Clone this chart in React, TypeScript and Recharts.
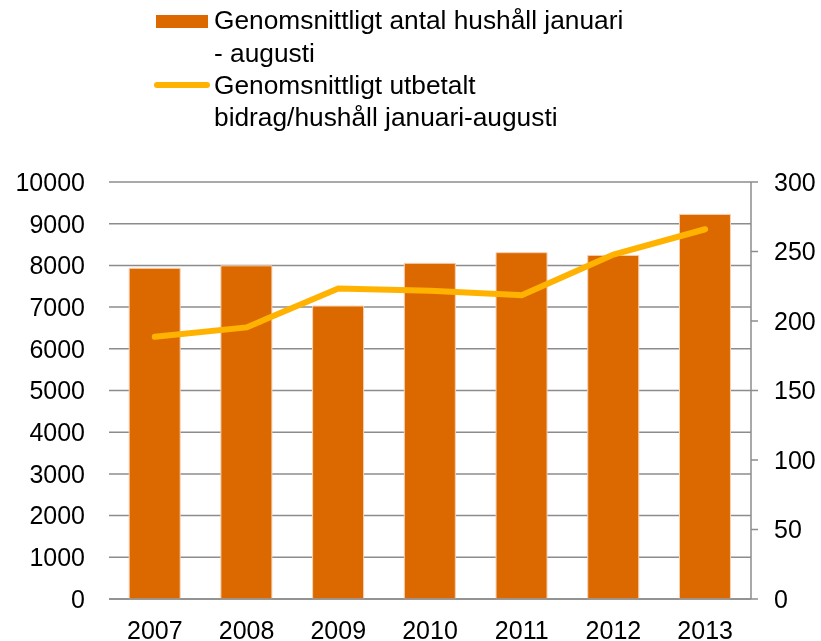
import React from 'react';
import { ComposedChart, Bar, Line, XAxis, YAxis, CartesianGrid, Legend } from 'recharts';

const years = ['2007', '2008', '2009', '2010', '2011', '2012', '2013'];
const households = [7930, 7990, 7025, 8050, 8305, 8240, 9223];
const payments = [188.6, 195.4, 223.4, 221.7, 218.6, 247.8, 266];
const leftTicks = [0, 1000, 2000, 3000, 4000, 5000, 6000, 7000, 8000, 9000, 10000];
const rightTicks = [0, 50, 100, 150, 200, 250, 300];
const barLegendLines = ['Genomsnittligt antal hushåll januari', '- augusti'];
const lineLegendLines = ['Genomsnittligt utbetalt', 'bidrag/hushåll januari-augusti'];

const data = years.map((year, i) => ({ year, households: households[i], payment: payments[i] }));

const BAR_COLOR = '#DC6900';
const LINE_COLOR = '#FFB300';
const AXIS_COLOR = '#8C8C8C';
const FONT = '"Liberation Sans", Arial, sans-serif';
const LH = 32.3;

const tickStyle = { fill: '#000', fontSize: 25, fontFamily: FONT };

const renderLegend = () => (
  <div style={{ fontFamily: FONT, fontSize: 26.3, lineHeight: `${LH}px`, color: '#000', textAlign: 'left' }}>
    <div style={{ display: 'flex' }}>
      <div style={{ width: 60, height: LH, position: 'relative', flex: 'none' }}>
        <div style={{ position: 'absolute', left: 2, top: 10.8, width: 52, height: 13, background: BAR_COLOR }} />
      </div>
      <div>
        {barLegendLines.map((t) => (
          <div key={t} style={{ whiteSpace: 'nowrap' }}>{t}</div>
        ))}
      </div>
    </div>
    <div style={{ display: 'flex' }}>
      <div style={{ width: 60, height: LH, position: 'relative', flex: 'none' }}>
        <div style={{ position: 'absolute', left: 0, top: 13.2, width: 56, height: 6, borderRadius: 3, background: LINE_COLOR }} />
      </div>
      <div>
        {lineLegendLines.map((t) => (
          <div key={t} style={{ whiteSpace: 'nowrap' }}>{t}</div>
        ))}
      </div>
    </div>
  </div>
);

export default function App() {
  return (
    <div style={{ position: 'fixed', left: 8, top: 8, width: 813, height: 633 }}>
      <ComposedChart
        width={813}
        height={633}
        data={data}
        margin={{ top: 174, right: 0, bottom: 0, left: 0 }}
        barCategoryGap="22%"
      >
        <CartesianGrid yAxisId="left" vertical={false} stroke={AXIS_COLOR} strokeWidth={1.5} />
        <XAxis
          dataKey="year"
          height={42}
          axisLine={{ stroke: AXIS_COLOR, strokeWidth: 1.5 }}
          tickLine={false}
          tickSize={6}
          tickMargin={16.5}
          tick={tickStyle}
          interval={0}
        />
        <YAxis
          yAxisId="left"
          orientation="left"
          width={101}
          domain={[0, 10000]}
          ticks={leftTicks}
          axisLine={false}
          tickLine={false}
          tickSize={6}
          tickMargin={18}
          tick={tickStyle}
          interval={0}
        />
        <YAxis
          yAxisId="right"
          orientation="right"
          width={70}
          domain={[0, 300]}
          ticks={rightTicks}
          axisLine={{ stroke: AXIS_COLOR, strokeWidth: 1.5 }}
          tickLine={{ stroke: AXIS_COLOR, strokeWidth: 1.5 }}
          tickSize={7}
          tickMargin={16}
          tick={tickStyle}
          interval={0}
        />
        <Legend
          verticalAlign="middle"
          align="center"
          layout="horizontal"
          content={renderLegend}
          wrapperStyle={{ top: -3.8, left: 146, width: 560 }}
        />
        <Bar
          yAxisId="left"
          dataKey="households"
          name="Genomsnittligt antal hushåll januari - augusti"
          fill={BAR_COLOR}
          stroke="#F6D2B4"
          strokeWidth={1}
          isAnimationActive={false}
        />
        <Line
          yAxisId="right"
          dataKey="payment"
          name="Genomsnittligt utbetalt bidrag/hushåll januari-augusti"
          stroke={LINE_COLOR}
          strokeWidth={6}
          strokeLinecap="round"
          dot={false}
          activeDot={false}
          isAnimationActive={false}
        />
      </ComposedChart>
    </div>
  );
}
